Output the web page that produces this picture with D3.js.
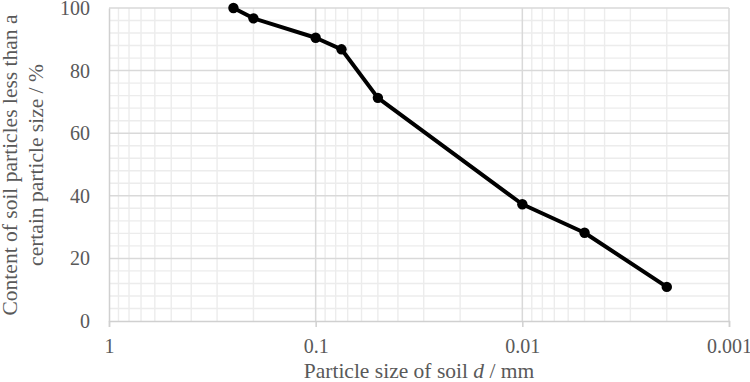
<!DOCTYPE html>
<html>
<head>
<meta charset="utf-8">
<script src="https://cdn.jsdelivr.net/npm/d3@7"></script>
<style>
  body { margin: 0; background: #fff; }
  text { font-family: "Liberation Serif", "Times New Roman", serif; fill: #595959; }
</style>
</head>
<body>
<svg id="chart" width="750" height="382"></svg>
<script>
// particle size (mm) and cumulative passing (%)
const sizes = [0.25, 0.2, 0.1, 0.075, 0.05, 0.01, 0.005, 0.002];
const passing = [100, 96.7, 90.5, 86.8, 71.3, 37.3, 28.2, 10.9];
const xTicks = [1, 0.1, 0.01, 0.001];
const yTicks = [0, 20, 40, 60, 80, 100];

const svg = d3.select("#chart");
const m = { left: 109, right: 729, top: 8, bottom: 321 };

const x = d3.scaleLog().domain([1, 0.001]).range([m.left, m.right]);
const y = d3.scaleLinear().domain([0, 100]).range([m.bottom, m.top]);

// minor grid
const minorX = [];
for (let e = 0; e < 3; e++) {
  for (let k = 2; k <= 9; k++) minorX.push(k * Math.pow(10, -e - 1));
}
const minorY = d3.range(0, 101, 4).filter(v => v % 20 !== 0);

const grid = svg.append("g");
grid.selectAll(".mx").data(minorX).enter().append("line")
  .attr("x1", d => x(d)).attr("x2", d => x(d))
  .attr("y1", m.top).attr("y2", m.bottom)
  .attr("stroke", "#ececec").attr("stroke-width", 1.4);
grid.selectAll(".my").data(minorY).enter().append("line")
  .attr("x1", m.left).attr("x2", m.right)
  .attr("y1", d => y(d)).attr("y2", d => y(d))
  .attr("stroke", "#ececec").attr("stroke-width", 1.4);

// major grid
grid.selectAll(".Mx").data(xTicks.slice(1)).enter().append("line")
  .attr("x1", d => x(d)).attr("x2", d => x(d))
  .attr("y1", m.top).attr("y2", m.bottom)
  .attr("stroke", "#d9d9d9").attr("stroke-width", 1.5);
grid.selectAll(".My").data(yTicks.slice(1)).enter().append("line")
  .attr("x1", m.left).attr("x2", m.right)
  .attr("y1", d => y(d)).attr("y2", d => y(d))
  .attr("stroke", "#d9d9d9").attr("stroke-width", 1.5);

// axes
const xAxis = d3.axisBottom(x).tickValues(xTicks).tickFormat(d => String(d))
  .tickSize(6).tickPadding(12);
const gx = svg.append("g").attr("transform", `translate(0,${m.bottom})`).call(xAxis);
gx.select(".domain").attr("stroke", "#d0d0d0").attr("stroke-width", 1.5);
gx.selectAll(".tick line").attr("stroke", "#d0d0d0").attr("stroke-width", 1.5);
gx.selectAll("text").style("font-size", "20px").attr("fill", "#595959");

const yAxis = d3.axisLeft(y).tickValues(yTicks).tickSize(0).tickPadding(19);
const gy = svg.append("g").attr("transform", `translate(${m.left},0)`).call(yAxis);
gy.select(".domain").attr("stroke", "#d0d0d0").attr("stroke-width", 1.5);
gy.selectAll("text").style("font-size", "20px").attr("fill", "#595959");

// series
const pts = sizes.map((s, i) => [s, passing[i]]);
svg.append("path").datum(pts)
  .attr("fill", "none").attr("stroke", "#000").attr("stroke-width", 4)
  .attr("stroke-linejoin", "round")
  .attr("d", d3.line().x(d => x(d[0])).y(d => y(d[1])));
svg.selectAll(".pt").data(pts).enter().append("circle")
  .attr("cx", d => x(d[0])).attr("cy", d => y(d[1])).attr("r", 5.2)
  .attr("fill", "#000");

// titles
const xt = svg.append("text").attr("x", 419).attr("y", 378)
  .attr("text-anchor", "middle").style("font-size", "21.5px");
xt.append("tspan").text("Particle size of soil ");
xt.append("tspan").style("font-style", "italic").text("d");
xt.append("tspan").text(" / mm");

const yt = svg.append("text").attr("transform", "translate(0,165) rotate(-90)")
  .attr("text-anchor", "middle").style("font-size", "21.5px");
yt.append("tspan").attr("x", 0).attr("y", 17).text("Content of soil particles less than a");
yt.append("tspan").attr("x", 0).attr("y", 43).text("certain particle size / %");
</script>
</body>
</html>
